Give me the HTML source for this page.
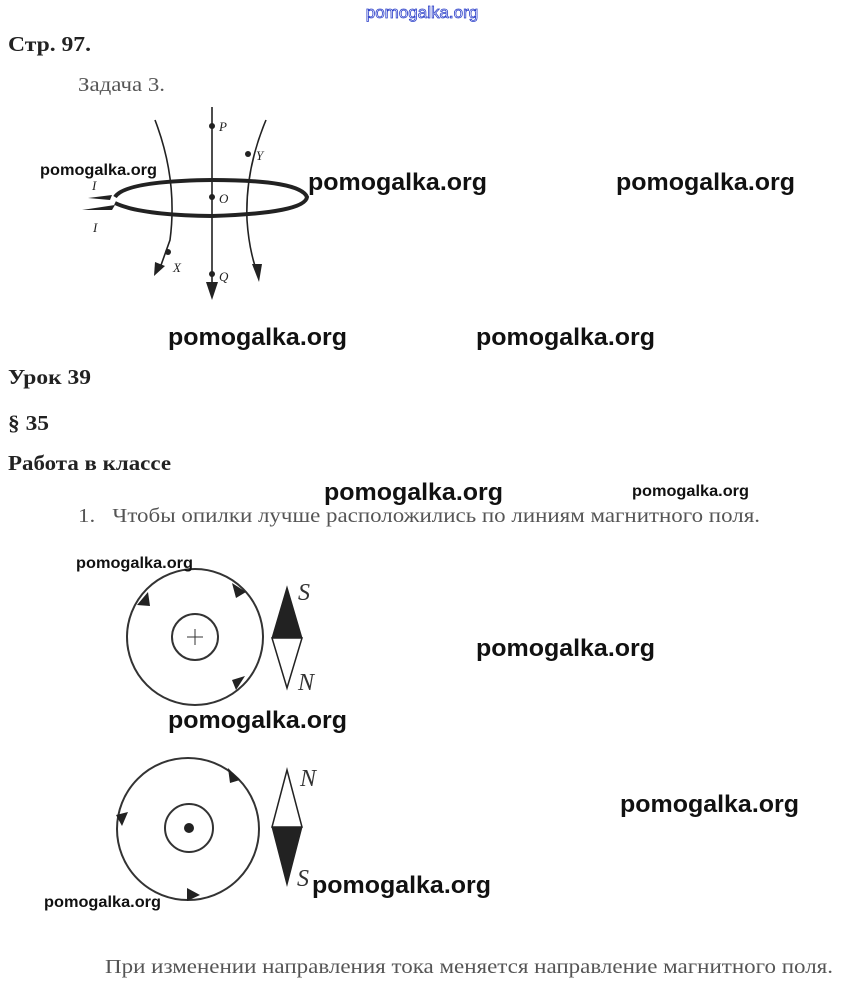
<!DOCTYPE html>
<html><head><meta charset="utf-8"><style>
body{margin:0;background:#fff;width:842px;height:989px;overflow:hidden}
svg{display:block}
.s{font-family:"Liberation Serif","Noto Serif CJK SC",serif}
.w{font-family:"Liberation Sans","DejaVu Sans",sans-serif;font-weight:bold;fill:#111}
</style></head><body>
<svg width="842" height="989" viewBox="0 0 842 989" xmlns="http://www.w3.org/2000/svg">
<text x="422" y="18" text-anchor="middle" font-family="Liberation Sans,sans-serif" font-size="17" fill="#fff" stroke="#2b3fc9" stroke-width="0.8">pomogalka.org</text>
<text class="s" x="8" y="51" font-size="21" font-weight="bold" fill="#222" textLength="83" lengthAdjust="spacingAndGlyphs">Стр. 97.</text>
<text class="s" x="78" y="91" font-size="20" fill="#555" textLength="87" lengthAdjust="spacingAndGlyphs">Задача 3.</text>
<g fill="none" stroke="#222" stroke-width="1.6">
<path d="M212 107 L212 292"/>
<path d="M155 120 Q178 180 170 240 L160 268"/>
<path d="M266 120 Q245 170 247 220 Q249 250 257 272"/>
</g>
<path d="M115 197 Q125 181 212 180 Q300 180 307 197 Q305 213 212 216 Q140 215 115 203" fill="none" stroke="#222" stroke-width="4"/>
<path d="M82 210 L115 205 L112 210 Z" fill="#222"/><path d="M88 198 L112 195 L110 200 Z" fill="#222"/>
<g fill="#222">
<polygon points="206,282 218,282 212,300"/>
<polygon points="155,262 165,266 154,276"/>
<polygon points="252,264 262,264 259,282"/>
<circle cx="212" cy="126" r="3"/><circle cx="212" cy="197" r="3"/><circle cx="212" cy="274" r="3"/>
<circle cx="168" cy="252" r="3"/><circle cx="248" cy="154" r="3"/>
</g>
<g class="s" font-style="italic" font-size="13" fill="#222">
<text x="219" y="131">P</text><text x="219" y="203">O</text><text x="219" y="281">Q</text>
<text x="173" y="272">X</text><text x="256" y="160">Y</text><text x="93" y="232">I</text><text x="92" y="190">I</text>
</g>
<text class="s" x="8" y="384" font-size="21" font-weight="bold" fill="#222" textLength="83" lengthAdjust="spacingAndGlyphs">Урок 39</text>
<text class="s" x="8" y="430" font-size="21" font-weight="bold" fill="#222" textLength="41" lengthAdjust="spacingAndGlyphs">§ 35</text>
<text class="s" x="8" y="470" font-size="21" font-weight="bold" fill="#222" textLength="163" lengthAdjust="spacingAndGlyphs">Работа в классе</text>
<text class="s" x="78" y="522" font-size="20" fill="#555" textLength="682" lengthAdjust="spacingAndGlyphs">1.&#160;&#160;&#160;Чтобы опилки лучше расположились по линиям магнитного поля.</text>
<g fill="none" stroke="#333" stroke-width="2">
<circle cx="195" cy="637" r="68"/><circle cx="195" cy="637" r="23"/>
<path d="M187 637 H203 M195 629 V645" stroke-width="1"/>
<circle cx="188" cy="829" r="71"/><circle cx="189" cy="828" r="24"/>
</g>
<circle cx="189" cy="828" r="5" fill="#222"/>
<g fill="#222">
<polygon points="137,605 148,592 150,606"/>
<polygon points="232,583 246,592 236,598"/>
<polygon points="245,676 236,690 232,680"/>
<polygon points="228,768 240,780 230,783"/>
<polygon points="116,815 128,812 122,826"/>
<polygon points="187,888 200,895 187,901"/>
</g>
<polygon points="287,587 302,638 272,638" fill="#222" stroke="#222"/>
<polygon points="272,638 302,638 287,688" fill="#fff" stroke="#222" stroke-width="1.5"/>
<polygon points="287,770 302,827 272,827" fill="#fff" stroke="#222" stroke-width="1.5"/>
<polygon points="272,827 302,827 287,885" fill="#222" stroke="#222"/>
<g class="s" font-style="italic" font-size="24" fill="#333">
<text x="298" y="600">S</text><text x="298" y="690">N</text>
<text x="300" y="786">N</text><text x="297" y="886">S</text>
</g>
<text class="s" x="105" y="973" font-size="20" fill="#555" textLength="728" lengthAdjust="spacingAndGlyphs">При изменении направления тока меняется направление магнитного поля.</text>
<g class="w" font-size="24">
<text x="308" y="190" textLength="179" lengthAdjust="spacingAndGlyphs">pomogalka.org</text><text x="616" y="190" textLength="179" lengthAdjust="spacingAndGlyphs">pomogalka.org</text>
<text x="168" y="345" textLength="179" lengthAdjust="spacingAndGlyphs">pomogalka.org</text><text x="476" y="345" textLength="179" lengthAdjust="spacingAndGlyphs">pomogalka.org</text>
<text x="324" y="500" textLength="179" lengthAdjust="spacingAndGlyphs">pomogalka.org</text><text x="476" y="656" textLength="179" lengthAdjust="spacingAndGlyphs">pomogalka.org</text>
<text x="168" y="728" textLength="179" lengthAdjust="spacingAndGlyphs">pomogalka.org</text><text x="620" y="812" textLength="179" lengthAdjust="spacingAndGlyphs">pomogalka.org</text>
<text x="312" y="893" textLength="179" lengthAdjust="spacingAndGlyphs">pomogalka.org</text>
</g>
<g class="w" font-size="16">
<text x="40" y="175" textLength="117" lengthAdjust="spacingAndGlyphs">pomogalka.org</text><text x="632" y="496" textLength="117" lengthAdjust="spacingAndGlyphs">pomogalka.org</text>
<text x="76" y="568" textLength="117" lengthAdjust="spacingAndGlyphs">pomogalka.org</text><text x="44" y="907" textLength="117" lengthAdjust="spacingAndGlyphs">pomogalka.org</text>
</g>
</svg>
</body></html>
